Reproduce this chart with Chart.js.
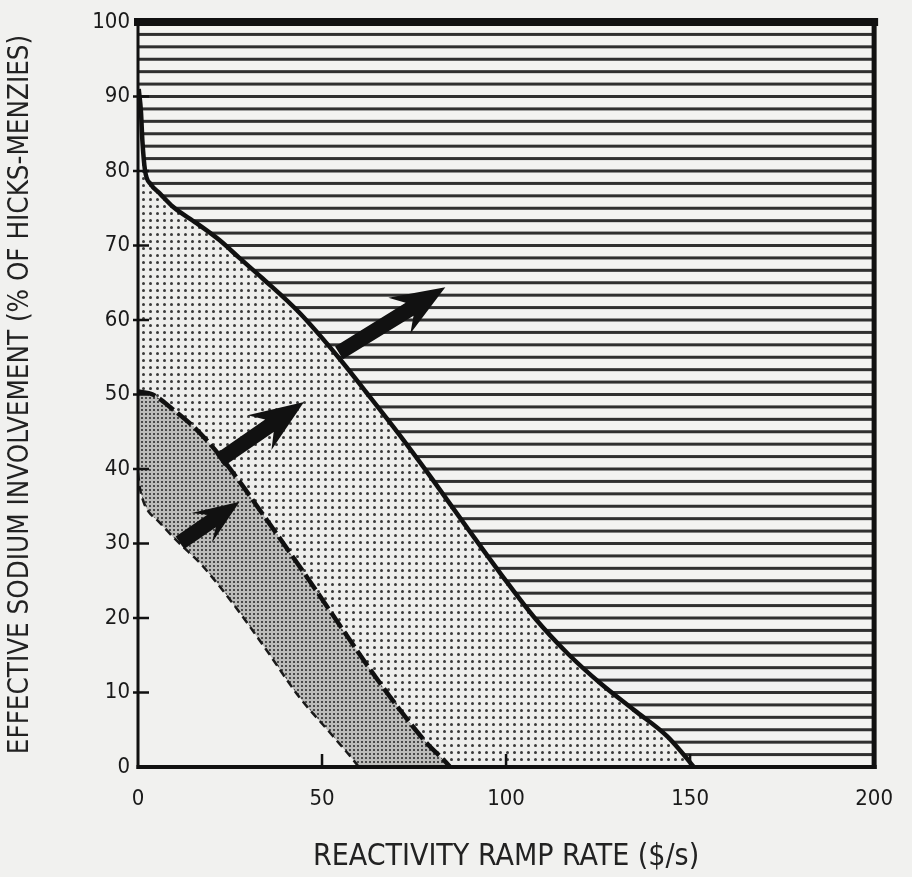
<!DOCTYPE html>
<html>
<head>
<meta charset="utf-8">
<script src="https://cdn.jsdelivr.net/npm/chart.js@4.4.1/dist/chart.umd.min.js"></script>
<style>
  html, body { margin: 0; padding: 0; background: #f1f1ef; }
  #wrap { width: 912px; height: 877px; }
</style>
</head>
<body>
<div id="wrap"><canvas id="c" width="912" height="877"></canvas></div>
<script>
// Upper boundary (solid line): above it the hatched region.
// The last points run on below zero so the curve meets the axis without flattening;
// everything below zero is clipped away by the chart area.
const rampA = [0.2, 0.8, 1.2, 1.9, 3.5, 5.9, 9.5, 15.9, 22.2, 27.6, 33.8, 43.8, 54.6, 62.0, 71.0, 80.0, 89.0, 98.6, 107.8, 116.8, 125.7, 134.9, 143.8, 151.0, 158, 200];
const involvementA = [91, 88, 84, 80.1, 78.2, 77.0, 75.2, 73.0, 70.7, 68.3, 65.6, 61.0, 54.9, 50.3, 44.6, 38.6, 32.4, 25.9, 20.0, 15.2, 11.2, 7.6, 4.1, 0, -4.5, -40];

// Middle boundary (heavy broken line)
const rampB = [0, 4.0, 9.5, 15.9, 21.4, 27.6, 33.8, 41.1, 48.4, 55.4, 63.5, 70.8, 78.1, 84.8, 95, 200];
const involvementB = [50.4, 50.0, 48.0, 45.3, 42.3, 38.3, 34.0, 28.9, 23.7, 18.6, 12.8, 7.9, 3.4, 0, -7, -80];

// Lower boundary (dashed line)
const rampC = [0, 0.5, 1.5, 3.0, 5.1, 9.5, 13.2, 16.8, 25.7, 34.9, 43.8, 52.7, 60.0, 70, 200];
const involvementC = [39.5, 37.5, 35.6, 34.2, 33.2, 30.9, 29.1, 27.4, 22.0, 15.7, 9.4, 4.3, 0, -7, -100];

// Arrows pointing across the boundaries
const arrowFromRamp = [54.6, 22.2, 11.4];
const arrowFromInvolvement = [55.6, 41.2, 30.1];
const arrowToRamp = [83.5, 45.1, 27.6];
const arrowToInvolvement = [64.4, 49.0, 35.6];

const xTicks = [0, 50, 100, 150, 200];
const yTicks = [0, 10, 20, 30, 40, 50, 60, 70, 80, 90, 100];

const points = (xs, ys) => xs.map((x, i) => ({ x: x, y: ys[i] }));

// Fill patterns
function hatchPattern() {
  const c = document.createElement('canvas');
  c.width = 8; c.height = 877;
  const g = c.getContext('2d');
  g.fillStyle = '#f3f3f1';
  g.fillRect(0, 0, c.width, c.height);
  g.fillStyle = '#303030';
  const top = 22, span = 745, n = 60;
  for (let k = 1; k < n; k++) {
    const y = top + k * span / n;
    g.fillRect(0, y - 1.5, c.width, 3.0);
  }
  return g.createPattern(c, 'repeat');
}
function coarseDots() {
  const c = document.createElement('canvas');
  c.width = 7; c.height = 7;
  const g = c.getContext('2d');
  g.fillStyle = '#eeeeec';
  g.fillRect(0, 0, 7, 7);
  g.fillStyle = '#3a3a3a';
  g.beginPath(); g.arc(3.5, 3.5, 1.5, 0, Math.PI * 2); g.fill();
  return g.createPattern(c, 'repeat');
}
function fineDots() {
  const c = document.createElement('canvas');
  c.width = 4; c.height = 4;
  const g = c.getContext('2d');
  g.fillStyle = '#bcbcba';
  g.fillRect(0, 0, 4, 4);
  g.fillStyle = '#4a4a4a';
  g.fillRect(1, 1, 2, 2);
  return g.createPattern(c, 'repeat');
}

// Frame, tick marks and arrows
const decor = {
  id: 'decor',
  afterDatasetsDraw(chart) {
    const ctx = chart.ctx;
    const { left, right, top, bottom } = chart.chartArea;
    const xs = chart.scales.x, ys = chart.scales.y;
    ctx.save();
    ctx.fillStyle = '#111';
    ctx.strokeStyle = '#111';

    // arrows
    for (let i = 0; i < arrowFromRamp.length; i++) {
      const x0 = xs.getPixelForValue(arrowFromRamp[i]);
      const y0 = ys.getPixelForValue(arrowFromInvolvement[i]);
      const x1 = xs.getPixelForValue(arrowToRamp[i]);
      const y1 = ys.getPixelForValue(arrowToInvolvement[i]);
      const ang = Math.atan2(y1 - y0, x1 - x0);
      const len = Math.hypot(x1 - x0, y1 - y0);
      const headLen = i === 2 ? 46 : 54, headHalf = i === 2 ? 18 : 21, shaftHalf = 7.5;
      ctx.save();
      ctx.translate(x0, y0);
      ctx.rotate(ang);
      ctx.beginPath();
      ctx.moveTo(0, -shaftHalf);
      ctx.lineTo(len - headLen + 12, -shaftHalf);
      ctx.lineTo(len - headLen, -headHalf);
      ctx.lineTo(len, 0);
      ctx.lineTo(len - headLen, headHalf);
      ctx.lineTo(len - headLen + 12, shaftHalf);
      ctx.lineTo(0, shaftHalf);
      ctx.closePath();
      ctx.fill();
      ctx.restore();
    }

    // tick marks
    ctx.lineWidth = 2.5;
    ctx.beginPath();
    yTicks.slice(1, -1).forEach(v => {
      const y = ys.getPixelForValue(v);
      ctx.moveTo(left - 5, y); ctx.lineTo(left + 11, y);
    });
    xTicks.slice(1, -1).forEach(v => {
      const x = xs.getPixelForValue(v);
      ctx.moveTo(x, bottom); ctx.lineTo(x, bottom - 13);
    });
    ctx.stroke();

    // frame
    ctx.fillRect(left - 4, top - 4, right - left + 8, 8);      // top
    ctx.fillRect(right - 2.5, top - 4, 5, bottom - top + 6);    // right
    ctx.fillRect(left - 1.5, top - 4, 3, bottom - top + 6);     // left
    ctx.fillRect(left - 1.5, bottom - 2, right - left + 4, 4);  // bottom
    ctx.restore();
  }
};

const family = "'DejaVu Sans Condensed', 'Liberation Sans Narrow', sans-serif";
const tickFont = { family: family, size: 22 };

new Chart(document.getElementById('c'), {
  type: 'line',
  data: {
    datasets: [
      {
        data: points(rampA, involvementA),
        borderColor: '#111', borderWidth: 4.5,
        backgroundColor: hatchPattern(), fill: 'end',
        cubicInterpolationMode: 'monotone', pointRadius: 0
      },
      {
        data: points(rampB, involvementB),
        borderColor: '#111', borderWidth: 4.5, borderDash: [18, 5],
        backgroundColor: coarseDots(), fill: 'end',
        cubicInterpolationMode: 'monotone', pointRadius: 0
      },
      {
        data: points(rampC, involvementC),
        borderColor: '#1a1a1a', borderWidth: 2.5, borderDash: [8, 5],
        backgroundColor: fineDots(), fill: 'end',
        cubicInterpolationMode: 'monotone', pointRadius: 0
      }
    ]
  },
  options: {
    responsive: false,
    animation: false,
    devicePixelRatio: 1,
    layout: { padding: { top: 22, right: 34, left: 0, bottom: 0 } },
    plugins: {
      legend: { display: false },
      tooltip: { enabled: false },
      filler: { drawTime: 'beforeDatasetsDraw' }
    },
    scales: {
      x: {
        type: 'linear', min: 0, max: 200,
        afterBuildTicks: s => { s.ticks = xTicks.map(v => ({ value: v })); },
        afterFit: s => { s.height = 110; },
        grid: { display: false, drawTicks: false },
        border: { display: false },
        ticks: { font: tickFont, color: '#1a1a1a', padding: 19, maxRotation: 0 },
        title: { display: true, text: 'REACTIVITY RAMP RATE ($/s)', font: { family: family, size: 30 }, color: '#222', padding: { top: 0, bottom: 2 } }
      },
      y: {
        type: 'linear', min: 0, max: 100,
        afterBuildTicks: s => { s.ticks = yTicks.map(v => ({ value: v })); },
        afterFit: s => { s.width = 138; },
        grid: { display: false, drawTicks: false },
        border: { display: false },
        ticks: { font: tickFont, color: '#1a1a1a', padding: 8 },
        title: { display: true, text: 'EFFECTIVE SODIUM INVOLVEMENT (% OF HICKS-MENZIES)', font: { family: family, size: 27.5 }, color: '#222', padding: { top: 4, bottom: 0 } }
      }
    }
  },
  plugins: [decor]
});
</script>
</body>
</html>
